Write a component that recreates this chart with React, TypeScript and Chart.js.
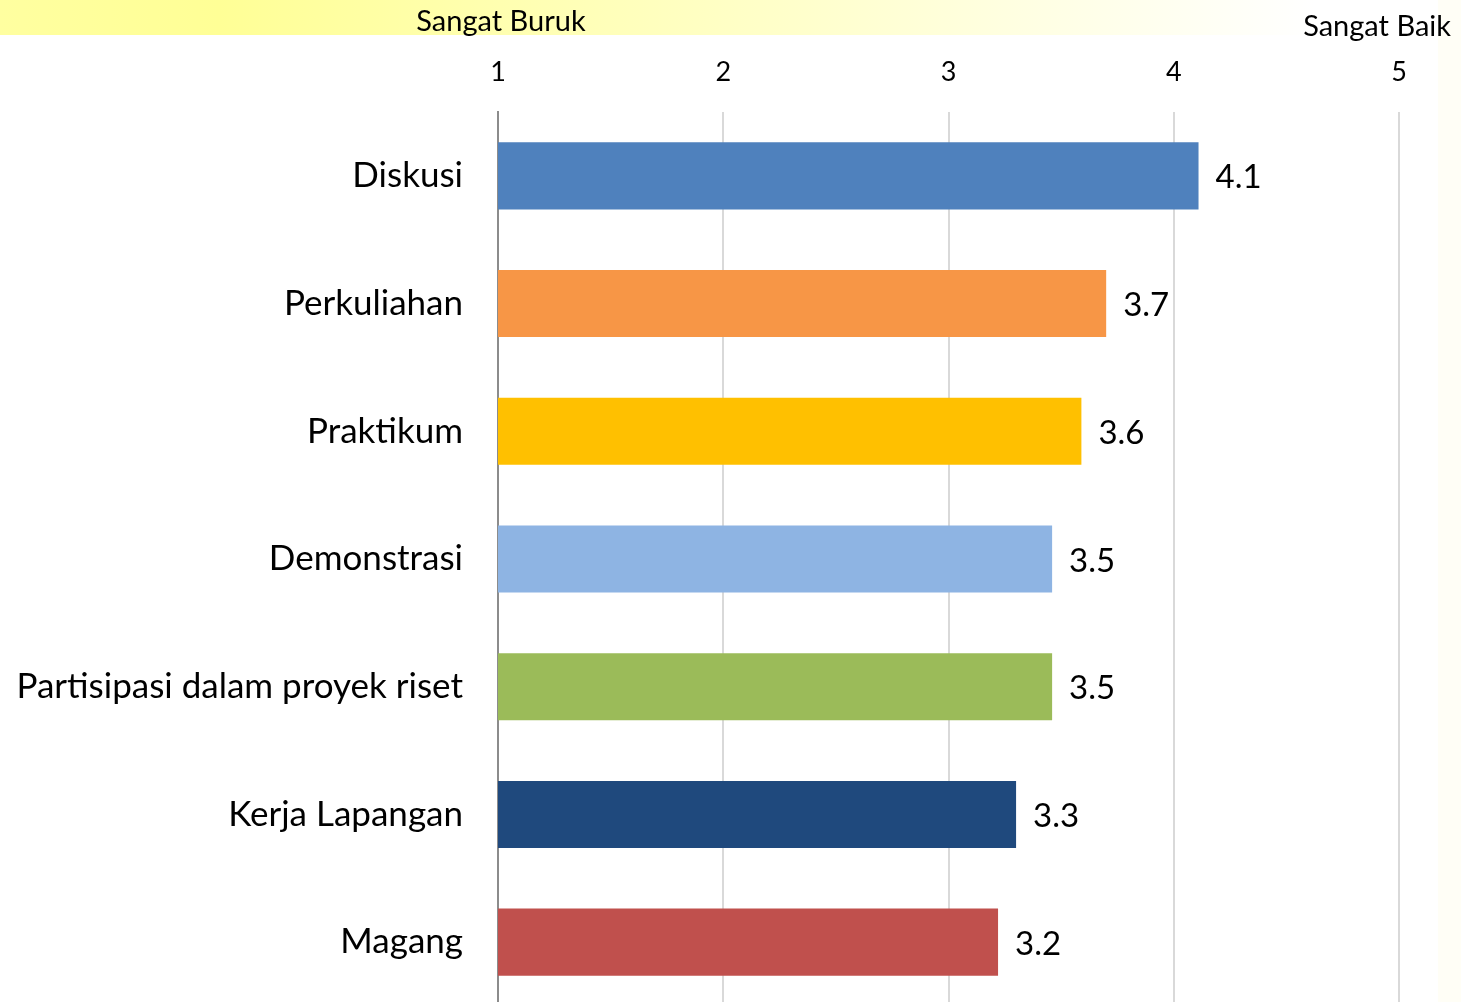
import React, { useEffect, useRef } from "react";
import { Chart, registerables } from "chart.js";

Chart.register(...registerables);

const categories = [
  "Diskusi",
  "Perkuliahan",
  "Praktikum",
  "Demonstrasi",
  "Partisipasi dalam proyek riset",
  "Kerja Lapangan",
  "Magang",
];
const values = [4.11, 3.7, 3.59, 3.46, 3.46, 3.3, 3.22];
const barColors = ["#4f81bd", "#f79646", "#ffc000", "#8eb4e3", "#9bbb59", "#1f497d", "#c0504d"];
const xTicks = [1, 2, 3, 4, 5];
const scaleLeftLabel = "Sangat Buruk";
const scaleRightLabel = "Sangat Baik";

const FONT = "Lato, 'Open Sans', sans-serif";

const decorPlugin = {
  id: "decor",
  beforeDraw(chart: any) {
    const { ctx, width } = chart;
    ctx.save();
    const g = ctx.createLinearGradient(0, 0, width, 0);
    g.addColorStop(0, "#ffffa0");
    g.addColorStop(0.15, "#ffff96");
    g.addColorStop(0.55, "#ffffcc");
    g.addColorStop(0.9, "#ffffff");
    ctx.fillStyle = g;
    ctx.fillRect(0, 0, width, 35);
    ctx.fillStyle = "#fffef6";
    ctx.fillRect(1438, 0, width - 1438, chart.height);
    ctx.fillStyle = "#000";
    ctx.font = `29px ${FONT}`;
    ctx.textBaseline = "middle";
    ctx.textAlign = "center";
    ctx.fillText(scaleLeftLabel, 501, 22);
    ctx.textAlign = "right";
    ctx.fillText(scaleRightLabel, 1451, 27);
    ctx.restore();
  },
  afterDatasetsDraw(chart: any) {
    const { ctx } = chart;
    const meta = chart.getDatasetMeta(0);
    ctx.save();
    ctx.fillStyle = "#000";
    ctx.font = `33px ${FONT}`;
    ctx.textAlign = "left";
    ctx.textBaseline = "middle";
    meta.data.forEach((bar: any, i: number) => {
      ctx.fillText(values[i].toFixed(1), bar.x + 17, bar.y + 2);
    });
    ctx.restore();
  },
};

export default function App() {
  const ref = useRef<HTMLCanvasElement>(null);
  useEffect(() => {
    if (!ref.current) return;
    const chart = new Chart(ref.current, {
      type: "bar",
      data: {
        labels: categories,
        datasets: [
          {
            data: values,
            backgroundColor: barColors,
            barPercentage: 0.525,
            categoryPercentage: 1,
          },
        ],
      },
      options: {
        indexAxis: "y",
        animation: false,
        responsive: false,
        maintainAspectRatio: false,
        layout: { padding: { top: 55, right: 62, left: 0, bottom: 0 } },
        plugins: { legend: { display: false }, tooltip: { enabled: false } },
        scales: {
          x: {
            position: "top",
            min: 1,
            max: 5,
            afterBuildTicks: (s: any) => {
              s.ticks = xTicks.map((v) => ({ value: v }));
            },
            afterFit: (s: any) => {
              s.height = 57;
            },
            ticks: { color: "#000", font: { family: FONT, size: 27 }, padding: 24, stepSize: 1 },
            grid: { color: "#d9d9d9", lineWidth: 2, drawTicks: false },
            border: { display: false },
          },
          y: {
            afterFit: (s: any) => {
              s.width = 498;
              s.paddingTop = 0;
              s.paddingBottom = 0;
            },
            ticks: { color: "#000", font: { family: FONT, size: 35 }, padding: 35 },
            grid: { display: false, drawTicks: false },
            border: { display: true, color: "#8c8c8c", width: 2 },
          },
        },
      },
      plugins: [decorPlugin],
    } as any);
    return () => chart.destroy();
  }, []);
  return (
    <div style={{ position: "fixed", left: 0, top: 0, width: 1461, height: 1002, overflow: "hidden", background: "#fff" }}>
      <canvas ref={ref} width={1461} height={1006} style={{ display: "block", width: 1461, height: 1006 }} />
    </div>
  );
}
